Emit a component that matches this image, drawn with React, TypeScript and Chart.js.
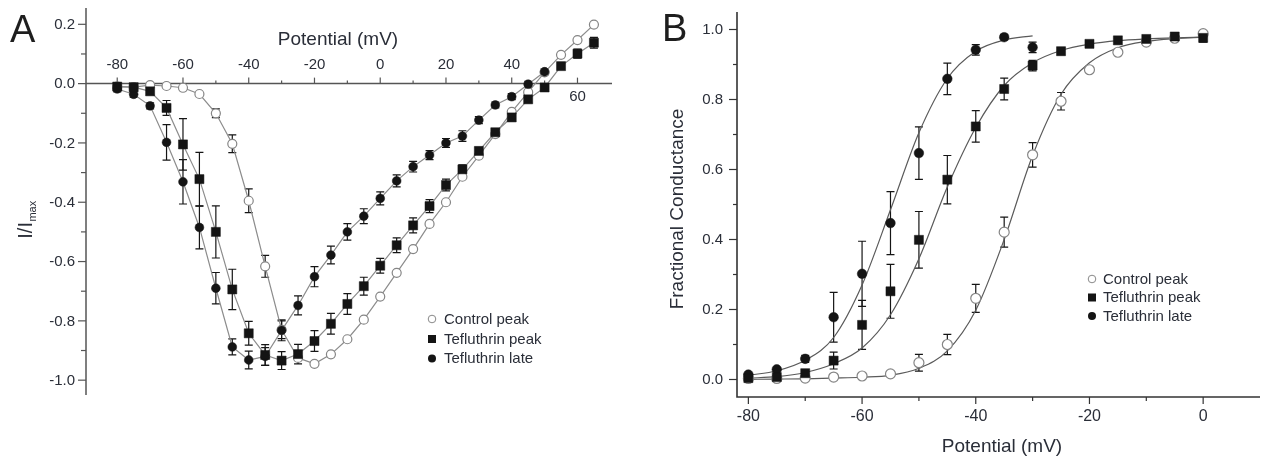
import React, { useEffect, useRef } from "react";
import { Chart, registerables } from "chart.js";
Chart.register(...registerables);

// ---------- Panel A: I/Imax vs potential ----------
const voltsA = [-80, -75, -70, -65, -60, -55, -50, -45, -40, -35, -30, -25, -20, -15, -10, -5, 0, 5, 10, 15, 20, 25, 30, 35, 40, 45, 50, 55, 60, 65];
const ctrlPeakA = [-0.01, -0.012, -0.005, -0.008, -0.014, -0.035, -0.1, -0.203, -0.395, -0.616, -0.83, -0.925, -0.945, -0.913, -0.862, -0.796, -0.718, -0.638, -0.558, -0.473, -0.4, -0.314, -0.243, -0.17, -0.095, -0.029, 0.038, 0.097, 0.147, 0.199];
const ctrlPeakAErr = [null, null, null, null, null, null, 0.015, 0.03, 0.04, 0.037, 0.03, null, null, null, null, null, null, null, null, null, null, null, null, null, null, null, null, null, null, null];
const teflPeakA = [-0.01, -0.012, -0.026, -0.082, -0.205, -0.322, -0.5, -0.694, -0.842, -0.915, -0.934, -0.912, -0.868, -0.81, -0.743, -0.683, -0.614, -0.545, -0.478, -0.413, -0.342, -0.289, -0.227, -0.164, -0.114, -0.053, -0.013, 0.059, 0.101, 0.138];
const teflPeakAErr = [0.01, 0.01, 0.01, 0.025, 0.087, 0.09, 0.088, 0.068, 0.04, 0.035, 0.03, 0.033, 0.035, 0.035, 0.035, 0.03, 0.025, 0.025, 0.025, 0.022, 0.02, 0.015, 0.012, 0.01, 0.01, 0.01, 0.01, 0.01, 0.015, 0.018];
const voltsALate = [-80, -75, -70, -65, -60, -55, -50, -45, -40, -35, -30, -25, -20, -15, -10, -5, 0, 5, 10, 15, 20, 25, 30, 35, 40, 45, 50];
const teflLateA = [-0.018, -0.036, -0.075, -0.198, -0.331, -0.485, -0.69, -0.888, -0.932, -0.92, -0.832, -0.748, -0.651, -0.578, -0.5, -0.447, -0.387, -0.328, -0.28, -0.241, -0.2, -0.177, -0.123, -0.072, -0.044, -0.002, 0.04];
const teflLateAErr = [0.01, 0.01, 0.01, 0.06, 0.075, 0.072, 0.053, 0.027, 0.03, 0.03, 0.035, 0.032, 0.034, 0.03, 0.028, 0.025, 0.022, 0.02, 0.018, 0.015, 0.015, 0.018, 0.012, 0.01, 0.01, 0.01, 0.01];

// ---------- Panel B: fractional conductance ----------
const voltsB = [-80, -75, -70, -65, -60, -55, -50, -45, -40, -35, -30, -25, -20, -15, -10, -5, 0];
const ctrlPeakB = [0.003, 0.003, 0.004, 0.007, 0.01, 0.016, 0.048, 0.1, 0.232, 0.421, 0.642, 0.795, 0.885, 0.935, 0.964, 0.975, 0.988];
const ctrlPeakBErr = [null, null, null, null, null, null, 0.024, 0.029, 0.04, 0.043, 0.035, 0.025, null, null, null, null, null];
const teflPeakB = [0.004, 0.007, 0.018, 0.054, 0.156, 0.252, 0.399, 0.571, 0.723, 0.83, 0.897, 0.938, 0.959, 0.969, 0.973, 0.98, 0.976];
const teflPeakBErr = [null, null, 0.005, 0.024, 0.07, 0.077, 0.081, 0.069, 0.045, 0.031, 0.015, 0.01, 0.008, 0.006, 0.006, 0.006, 0.012];
const voltsBLate = [-80, -75, -70, -65, -60, -55, -50, -45, -40, -35, -30];
const teflLateB = [0.014, 0.029, 0.059, 0.178, 0.302, 0.447, 0.647, 0.859, 0.942, 0.978, 0.949];
const teflLateBErr = [null, null, 0.01, 0.071, 0.093, 0.09, 0.075, 0.045, 0.015, 0.008, 0.015];
// fitted Boltzmann curves
const fitCtrlB = [0.0006, 0.0012, 0.002, 0.004, 0.0065, 0.012, 0.032, 0.082, 0.198, 0.4, 0.64, 0.815, 0.905, 0.948, 0.966, 0.974, 0.978];
const fitPeakB = [0.004, 0.008, 0.02, 0.045, 0.09, 0.185, 0.345, 0.55, 0.72, 0.84, 0.905, 0.94, 0.958, 0.968, 0.973, 0.976, 0.978];
const fitLateB = [0.012, 0.025, 0.055, 0.12, 0.27, 0.485, 0.705, 0.86, 0.938, 0.97, 0.982];

// ---------- axes / labels ----------
const xMajorA = [-80, -60, -40, -20, 0, 20, 40, 60];
const xMinorA = [-70, -50, -30, -10, 10, 30, 50];
const xLabelsBelowA = [60];
const yMajorA = [0.2, 0, -0.2, -0.4, -0.6, -0.8, -1.0];
const yMinorA = [0.1, -0.1, -0.3, -0.5, -0.7, -0.9];
const xMajorB = [-80, -60, -40, -20, 0];
const xMinorB = [-70, -50, -30, -10];
const yMajorB = [0, 0.2, 0.4, 0.6, 0.8, 1.0];
const yMinorB = [0.1, 0.3, 0.5, 0.7, 0.9];
const seriesLabels = ["Control peak", "Tefluthrin peak", "Tefluthrin late"];
const xTitle = "Potential (mV)";
const yTitleB = "Fractional Conductance";

const FONT = '"Liberation Sans", Arial, Helvetica, sans-serif';
const TEXT = "#2a2e38";
const W = 634;
const H = 460;

const pts = (xs: number[], ys: number[]) => xs.map((x, i) => ({ x, y: ys[i] }));

const errorBarPlugin = {
  id: "errorBars",
  beforeDatasetsDraw(chart: any) {
    const { ctx } = chart;
    const xs = chart.scales.x;
    const ys = chart.scales.y;
    const cap = chart.options.plugins.errorBars?.cap ?? 4;
    chart.data.datasets.forEach((ds: any) => {
      if (!ds.errors) return;
      ctx.save();
      ctx.strokeStyle = "#151515";
      ctx.lineWidth = 1.2;
      ds.data.forEach((p: any, i: number) => {
        const e = ds.errors[i];
        if (e == null) return;
        const px = xs.getPixelForValue(p.x);
        const yt = ys.getPixelForValue(p.y + e);
        const yb = ys.getPixelForValue(p.y - e);
        ctx.beginPath();
        ctx.moveTo(px, yt);
        ctx.lineTo(px, yb);
        ctx.moveTo(px - cap, yt);
        ctx.lineTo(px + cap, yt);
        ctx.moveTo(px - cap, yb);
        ctx.lineTo(px + cap, yb);
        ctx.stroke();
      });
      ctx.restore();
    });
  },
};

function drawLegend(ctx: CanvasRenderingContext2D, x: number, tx: number, ys: number[], fs: number) {
  ctx.save();
  ctx.font = `${fs}px ${FONT}`;
  ctx.fillStyle = TEXT;
  ctx.textBaseline = "middle";
  ctx.textAlign = "left";
  seriesLabels.forEach((lab, i) => {
    const y = ys[i];
    ctx.beginPath();
    if (i === 0) {
      ctx.arc(x, y, 3.8, 0, Math.PI * 2);
      ctx.fillStyle = "#fff";
      ctx.fill();
      ctx.strokeStyle = "#888";
      ctx.lineWidth = 1;
      ctx.stroke();
    } else if (i === 1) {
      ctx.rect(x - 4, y - 4, 8, 8);
      ctx.fillStyle = "#141414";
      ctx.fill();
    } else {
      ctx.arc(x, y, 4, 0, Math.PI * 2);
      ctx.fillStyle = "#141414";
      ctx.fill();
    }
    ctx.fillStyle = TEXT;
    ctx.fillText(lab, tx, y + 0.5);
  });
  ctx.restore();
}

const axesAPlugin = {
  id: "axesA",
  beforeDatasetsDraw(chart: any) {
    const { ctx, chartArea } = chart;
    const xs = chart.scales.x;
    const ys = chart.scales.y;
    ctx.save();
    ctx.strokeStyle = "#555";
    ctx.lineWidth = 1.5;
    // y axis
    ctx.beginPath();
    ctx.moveTo(chartArea.left, chartArea.top);
    ctx.lineTo(chartArea.left, chartArea.bottom);
    ctx.stroke();
    ctx.lineWidth = 1.2;
    yMinorA.forEach((v) => {
      const py = ys.getPixelForValue(v);
      ctx.beginPath();
      ctx.moveTo(chartArea.left - 5, py);
      ctx.lineTo(chartArea.left, py);
      ctx.stroke();
    });
    ctx.font = `15px ${FONT}`;
    ctx.fillStyle = TEXT;
    ctx.textAlign = "right";
    ctx.textBaseline = "middle";
    yMajorA.forEach((v) => {
      const py = ys.getPixelForValue(v);
      ctx.beginPath();
      ctx.moveTo(chartArea.left - 8, py);
      ctx.lineTo(chartArea.left, py);
      ctx.stroke();
      ctx.fillText(v.toFixed(1), chartArea.left - 11, py + 0.5);
    });
    // x axis at zero
    const y0 = ys.getPixelForValue(0);
    ctx.lineWidth = 1.5;
    ctx.beginPath();
    ctx.moveTo(chartArea.left, y0);
    ctx.lineTo(chartArea.right, y0);
    ctx.stroke();
    ctx.lineWidth = 1.2;
    xMinorA.forEach((v) => {
      const px = xs.getPixelForValue(v);
      ctx.beginPath();
      ctx.moveTo(px, y0 - 3);
      ctx.lineTo(px, y0);
      ctx.stroke();
    });
    ctx.textAlign = "center";
    xMajorA.forEach((v) => {
      const px = xs.getPixelForValue(v);
      ctx.beginPath();
      ctx.moveTo(px, y0 - 6);
      ctx.lineTo(px, y0);
      ctx.stroke();
      const below = xLabelsBelowA.includes(v);
      ctx.fillText(String(v), px, below ? y0 + 13 : y0 - 19);
    });
    // x title
    ctx.font = `19px ${FONT}`;
    ctx.fillText(xTitle, 338, 40);
    // y title I/Imax
    ctx.save();
    ctx.translate(26, 220);
    ctx.rotate(-Math.PI / 2);
    ctx.font = `20px ${FONT}`;
    const w1 = ctx.measureText("I/I").width;
    ctx.font = `11px ${FONT}`;
    const w2 = ctx.measureText("max").width;
    const start = -(w1 + w2) / 2;
    ctx.textAlign = "left";
    ctx.font = `20px ${FONT}`;
    ctx.fillText("I/I", start, 0);
    ctx.font = `11px ${FONT}`;
    ctx.fillText("max", start + w1 + 0.5, 7);
    ctx.restore();
    // panel letter
    ctx.font = `38px ${FONT}`;
    ctx.textAlign = "left";
    ctx.textBaseline = "alphabetic";
    ctx.fillStyle = "#1e1e1e";
    ctx.fillText("A", 10, 42);
    ctx.restore();
  },
  afterDatasetsDraw(chart: any) {
    drawLegend(chart.ctx, 432, 444, [319, 339, 358.5], 15);
  },
};

const axesBPlugin = {
  id: "axesB",
  beforeDatasetsDraw(chart: any) {
    const { ctx, chartArea } = chart;
    const xs = chart.scales.x;
    const ys = chart.scales.y;
    ctx.save();
    ctx.strokeStyle = "#333";
    ctx.lineWidth = 1.6;
    ctx.beginPath();
    ctx.moveTo(chartArea.left, chartArea.top);
    ctx.lineTo(chartArea.left, chartArea.bottom);
    ctx.lineTo(chartArea.right, chartArea.bottom);
    ctx.stroke();
    ctx.lineWidth = 1.2;
    yMinorB.forEach((v) => {
      const py = ys.getPixelForValue(v);
      ctx.beginPath();
      ctx.moveTo(chartArea.left - 4, py);
      ctx.lineTo(chartArea.left, py);
      ctx.stroke();
    });
    ctx.font = `15px ${FONT}`;
    ctx.fillStyle = TEXT;
    ctx.textAlign = "right";
    ctx.textBaseline = "middle";
    yMajorB.forEach((v) => {
      const py = ys.getPixelForValue(v);
      ctx.beginPath();
      ctx.moveTo(chartArea.left - 8, py);
      ctx.lineTo(chartArea.left, py);
      ctx.stroke();
      ctx.fillText(v.toFixed(1), chartArea.left - 14, py + 0.5);
    });
    const yb = chartArea.bottom;
    xMinorB.forEach((v) => {
      const px = xs.getPixelForValue(v);
      ctx.beginPath();
      ctx.moveTo(px, yb);
      ctx.lineTo(px, yb + 4);
      ctx.stroke();
    });
    ctx.font = `16px ${FONT}`;
    ctx.textAlign = "center";
    xMajorB.forEach((v) => {
      const px = xs.getPixelForValue(v);
      ctx.beginPath();
      ctx.moveTo(px, yb);
      ctx.lineTo(px, yb + 7);
      ctx.stroke();
      ctx.fillText(String(v), px, yb + 20);
    });
    ctx.font = `19px ${FONT}`;
    ctx.fillText(xTitle, 368, 447);
    ctx.save();
    ctx.translate(44, 209);
    ctx.rotate(-Math.PI / 2);
    ctx.fillText(yTitleB, 0, 0);
    ctx.restore();
    ctx.font = `38px ${FONT}`;
    ctx.textAlign = "left";
    ctx.textBaseline = "alphabetic";
    ctx.fillStyle = "#1e1e1e";
    ctx.fillText("B", 28, 41);
    ctx.restore();
  },
  afterDatasetsDraw(chart: any) {
    drawLegend(chart.ctx, 458, 469, [279, 297.5, 316], 15);
  },
};

function PanelA() {
  const ref = useRef<HTMLCanvasElement>(null);
  useEffect(() => {
    const lineCol = "#8c8c8c";
    const chart = new Chart(ref.current as HTMLCanvasElement, {
      type: "line",
      data: {
        datasets: [
          {
            label: seriesLabels[1],
            data: pts(voltsA, teflPeakA),
            errors: teflPeakAErr,
            borderColor: lineCol,
            borderWidth: 1.2,
            pointStyle: "rect",
            pointRadius: 6.4,
            pointBackgroundColor: "#141414",
            pointBorderColor: "#141414",
            pointBorderWidth: 0.5,
            order: 1,
          },
          {
            label: seriesLabels[2],
            data: pts(voltsALate, teflLateA),
            errors: teflLateAErr,
            borderColor: lineCol,
            borderWidth: 1.2,
            pointStyle: "circle",
            pointRadius: 4.4,
            pointBackgroundColor: "#141414",
            pointBorderColor: "#141414",
            pointBorderWidth: 0.5,
            order: 2,
          },
          {
            label: seriesLabels[0],
            data: pts(voltsA, ctrlPeakA),
            errors: ctrlPeakAErr,
            borderColor: lineCol,
            borderWidth: 1.2,
            pointStyle: "circle",
            pointRadius: 4.5,
            pointBackgroundColor: "#ffffff",
            pointBorderColor: "#858585",
            pointBorderWidth: 1.2,
            order: 3,
          },
        ] as any,
      },
      options: {
        animation: false,
        responsive: false,
        events: [],
        layout: { padding: { left: 86, top: 8, right: 22, bottom: 65 } },
        plugins: {
          legend: { display: false },
          tooltip: { enabled: false },
          errorBars: { cap: 4 },
        } as any,
        scales: {
          x: { type: "linear", min: -89.5, max: 70.5, display: false },
          y: { type: "linear", min: -1.05, max: 0.255, display: false },
        },
      },
      plugins: [axesAPlugin, errorBarPlugin],
    });
    return () => chart.destroy();
  }, []);
  return <canvas ref={ref} width={W} height={H} style={{ position: "absolute", left: 0, top: 0, width: W, height: H }} />;
}

function PanelB() {
  const ref = useRef<HTMLCanvasElement>(null);
  useEffect(() => {
    const fitCol = "#5a5a5a";
    const fit = (xs: number[], ys: number[]) => ({
      data: pts(xs, ys),
      borderColor: fitCol,
      borderWidth: 1.2,
      pointRadius: 0,
      cubicInterpolationMode: "monotone",
      order: 5,
    });
    const chart = new Chart(ref.current as HTMLCanvasElement, {
      type: "line",
      data: {
        datasets: [
          { label: "fit control", ...fit(voltsB, fitCtrlB) },
          { label: "fit peak", ...fit(voltsB, fitPeakB) },
          { label: "fit late", ...fit(voltsBLate, fitLateB) },
          {
            label: seriesLabels[1],
            data: pts(voltsB, teflPeakB),
            errors: teflPeakBErr,
            showLine: false,
            pointStyle: "rect",
            pointRadius: 6.4,
            pointBackgroundColor: "#141414",
            pointBorderColor: "#141414",
            pointBorderWidth: 0.5,
            order: 1,
          },
          {
            label: seriesLabels[2],
            data: pts(voltsBLate, teflLateB),
            errors: teflLateBErr,
            showLine: false,
            pointStyle: "circle",
            pointRadius: 4.8,
            pointBackgroundColor: "#141414",
            pointBorderColor: "#141414",
            pointBorderWidth: 0.5,
            order: 2,
          },
          {
            label: seriesLabels[0],
            data: pts(voltsB, ctrlPeakB),
            errors: ctrlPeakBErr,
            showLine: false,
            pointStyle: "circle",
            pointRadius: 5,
            pointBackgroundColor: "#ffffff",
            pointBorderColor: "#858585",
            pointBorderWidth: 1.2,
            order: 3,
          },
        ] as any,
      },
      options: {
        animation: false,
        responsive: false,
        events: [],
        layout: { padding: { left: 103, top: 12, right: 8, bottom: 63 } },
        plugins: {
          legend: { display: false },
          tooltip: { enabled: false },
          errorBars: { cap: 4 },
        } as any,
        scales: {
          x: { type: "linear", min: -82, max: 10, display: false },
          y: { type: "linear", min: -0.05, max: 1.05, display: false },
        },
      },
      plugins: [axesBPlugin, errorBarPlugin],
    });
    return () => chart.destroy();
  }, []);
  return <canvas ref={ref} width={W} height={H} style={{ position: "absolute", left: W, top: 0, width: W, height: H }} />;
}

export default function App() {
  return (
    <div style={{ position: "absolute", left: 0, top: 0, width: 1268, height: 460, background: "#fff", overflow: "hidden" }}>
      <PanelA />
      <PanelB />
    </div>
  );
}
